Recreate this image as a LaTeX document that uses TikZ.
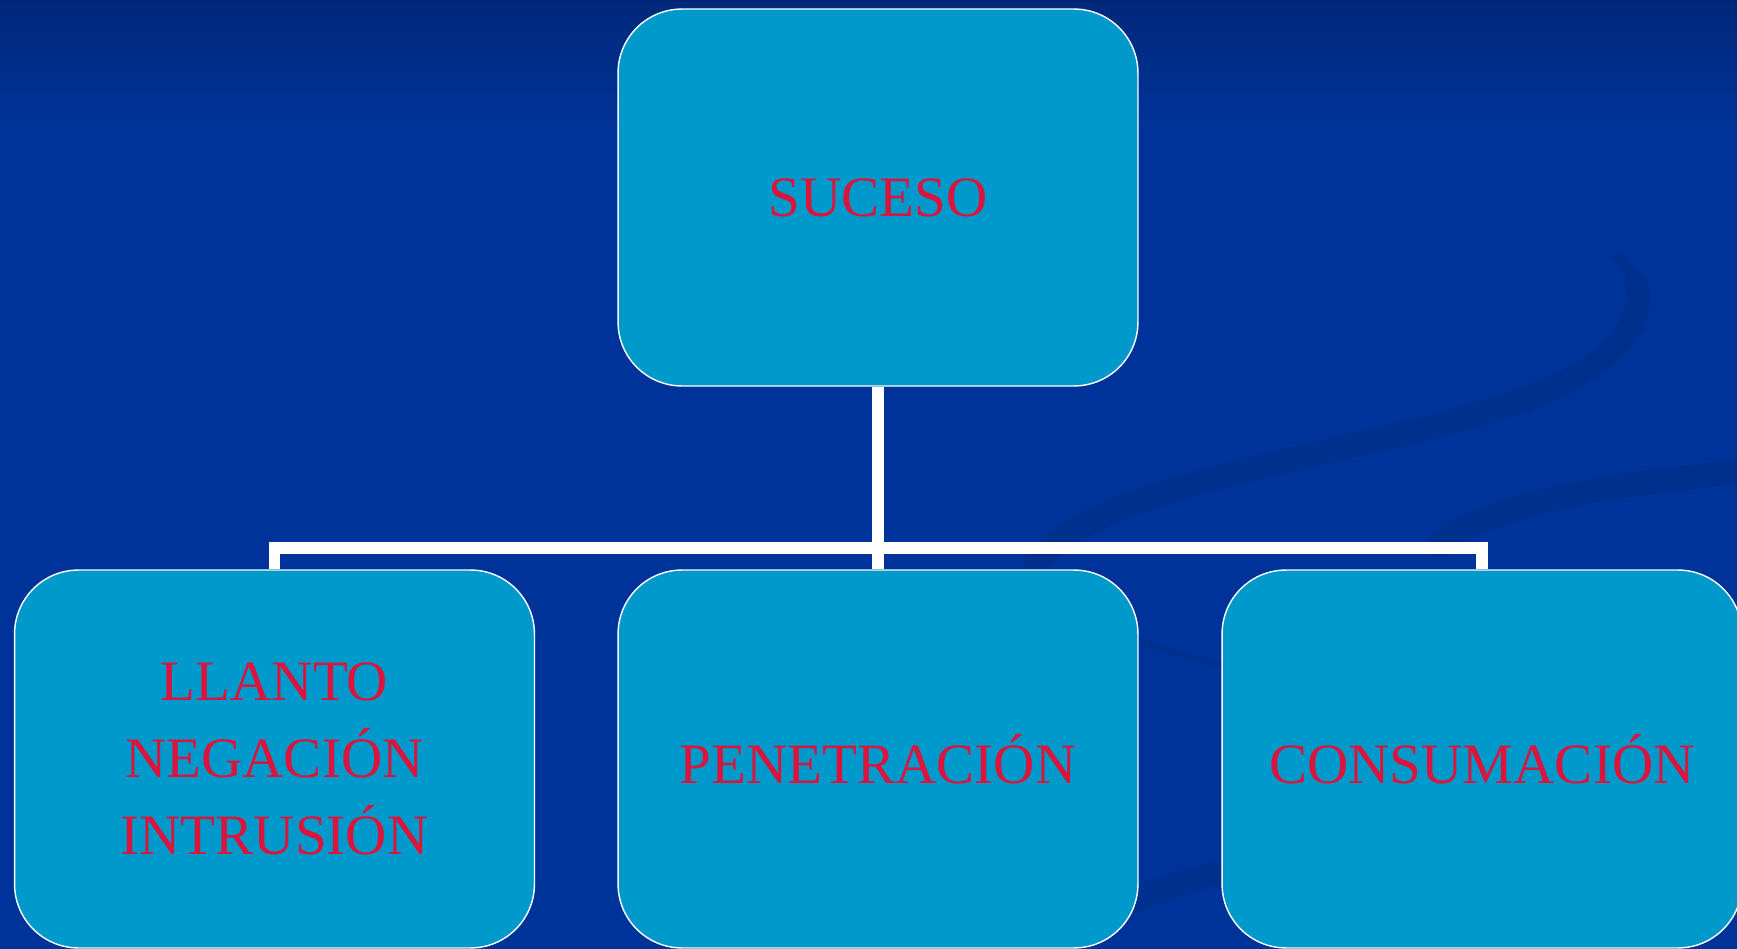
\documentclass[tikz,border=0pt]{standalone}
\usepackage{fontspec}
\setmainfont{Liberation Serif}
\usetikzlibrary{positioning}
\definecolor{bgblue}{HTML}{003399}
\definecolor{bgtop}{HTML}{00287A}
\definecolor{swirl}{HTML}{00308E}
\definecolor{boxfill}{HTML}{0099CC}
\definecolor{textred}{HTML}{DC143C}
\tikzset{
  box/.style={draw=white, line width=0.8pt, fill=boxfill, rounded corners=1.28cm,
    minimum width=10.4cm, minimum height=7.56cm, align=center, text=textred,
    font=\fontsize{32.5}{44}\selectfont, inner sep=0pt},
  conn/.style={draw=white, line width=6.8pt},
  band/.style={swirl, line width=14pt, line cap=round}
}
\begin{document}
\begin{tikzpicture}[x=0.02cm, y=-0.02cm]
  \useasboundingbox (0,0) rectangle (1737,949);
  \fill[bgblue] (0,0) rectangle (1737,949);
  \shade[top color=bgtop, bottom color=bgblue] (0,0) rectangle (1737,130);
  % swirl in the background
  \draw[band] (1036,563) .. controls (1110,470) and (1400,455) .. (1560,385)
    .. controls (1630,350) and (1645,310) .. (1636,285);
  \draw[swirl, line width=6pt, line cap=round] (1636,285) .. controls (1630,270) and (1625,262) .. (1618,258);
  \draw[band] (1440,545) .. controls (1500,495) and (1650,482) .. (1737,472);
  \draw[swirl, line width=3pt] (1138,640) .. controls (1170,652) and (1200,660) .. (1222,665);
  \draw[band] (1100,915) .. controls (1140,895) and (1190,880) .. (1222,872);

  \node[box, minimum height=7.54cm] (suceso) at (878,197.5) {SUCESO};
  \node[box] (llanto) at (274.5,759) {LLANTO\\NEGACIÓN\\INTRUSIÓN};
  \node[box] (penetracion) at (878,759) {PENETRACIÓN};
  \node[box] (consumacion) at (1482,759) {CONSUMACIÓN};

  \coordinate (bus) at (878,548);
  \draw[conn] (suceso.south) -- (penetracion.north);
  \draw[conn] (llanto.north) -- (llanto.north |- bus) -- (consumacion.north |- bus)
    -- (consumacion.north);
\end{tikzpicture}
\end{document}
